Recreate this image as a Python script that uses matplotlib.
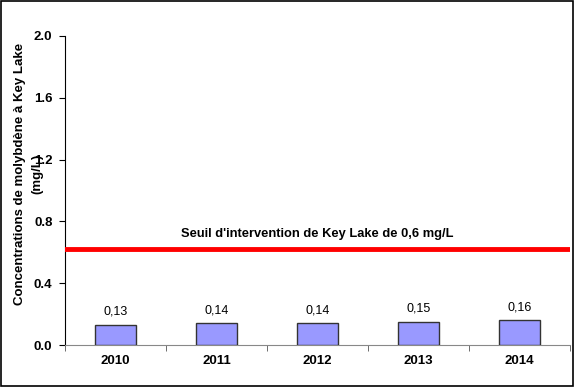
import matplotlib
matplotlib.use("Agg")
import matplotlib.pyplot as plt
from matplotlib.patches import Rectangle

years = ["2010", "2011", "2012", "2013", "2014"]
values = [0.13, 0.14, 0.14, 0.15, 0.16]
value_labels = ["0,13", "0,14", "0,14", "0,15", "0,16"]
threshold = 0.62
threshold_label = "Seuil d'intervention de Key Lake de 0,6 mg/L"
yticks = [0.0, 0.4, 0.8, 1.2, 1.6, 2.0]
ylabel_lines = ["Concentrations de molybdène à Key Lake", "(mg/L)"]

plt.rcParams['font.family'] = ['Liberation Sans', 'DejaVu Sans']
fig = plt.figure(figsize=(5.75, 3.87), dpi=100)
fig.patches.append(Rectangle((0.002, 0.003), 0.995, 0.994, transform=fig.transFigure,
                             fill=False, edgecolor='black', linewidth=1.2))
ax = fig.add_axes([0.113, 0.1085, 0.878, 0.7985])

x = list(range(len(years)))
ax.bar(x, values, width=0.41, color='#9999FF', edgecolor='#333333', linewidth=1.0, zorder=3)
for xi, v, lab in zip(x, values, value_labels):
    ax.text(xi, v + 0.045, lab, ha='center', va='bottom', fontsize=9)

ax.axhline(threshold, color='#FF0000', linewidth=3.5, zorder=4)
ax.text(2, threshold + 0.06, threshold_label, ha='center', va='bottom',
        fontsize=9.3, fontweight='bold')

ax.set_xlim(-0.5, len(years) - 0.5)
ax.set_ylim(0, 2.0)
ax.set_yticks(yticks)
ax.set_yticklabels([f"{t:.1f}" for t in yticks], fontweight='bold', fontsize=9.5)
ax.set_xticks(x)
ax.set_xticklabels(years, fontweight='bold', fontsize=9.5)
ax.tick_params(axis='x', length=0, pad=7)
ax.set_xticks([i - 0.5 for i in range(len(years) + 1)], minor=True)
ax.tick_params(axis='x', which='minor', length=4, direction='out', color='#555555')
ax.tick_params(axis='y', length=4, direction='out', pad=5)

for s in ['top', 'right']:
    ax.spines[s].set_visible(False)
ax.spines['bottom'].set_color('#888888')
ax.spines['left'].set_color('black')

fig.text(20 / 575, 0.55, ylabel_lines[0], rotation=90, ha='center', va='center',
         fontweight='bold', fontsize=9.5)
fig.text(37 / 575, 0.55, ylabel_lines[1], rotation=90, ha='center', va='center',
         fontweight='bold', fontsize=9.5)

fig.savefig("out.png", dpi=100)
